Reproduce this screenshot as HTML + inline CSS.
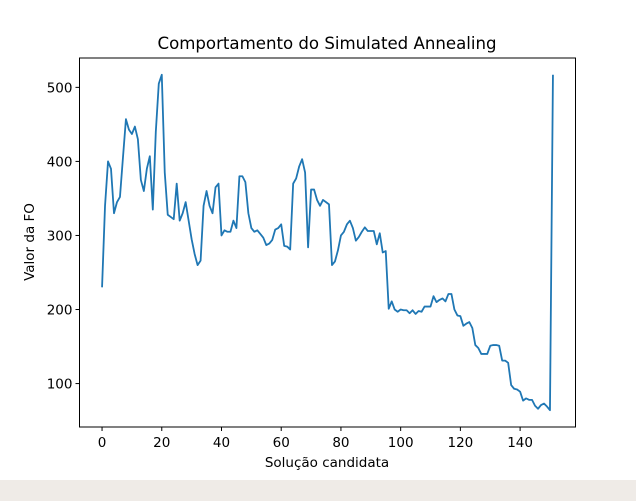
<!DOCTYPE html>
<html><head><meta charset="utf-8"><style>
html,body{margin:0;padding:0;background:#fff;}
svg{display:block;font-family:"DejaVu Sans","Liberation Sans",sans-serif;}
</style></head><body>
<svg id="chart" width="636" height="501" viewBox="0 0 636 501" xmlns="http://www.w3.org/2000/svg">
<rect x="0" y="0" width="636" height="480" fill="#fff"/>
<rect x="0" y="480" width="636" height="21" fill="#efebe7"/>
<text x="327" y="49" font-size="16.6" text-anchor="middle" fill="#000">Comportamento do Simulated Annealing</text>
<text x="327" y="467" font-size="13.5" text-anchor="middle" fill="#000">Solução candidata</text>
<text transform="translate(34,242) rotate(-90)" font-size="13.5" text-anchor="middle" fill="#000">Valor da FO</text>
<g id="ticks"></g>
<path id="series" fill="none" stroke="#1f77b4" stroke-width="1.8" stroke-linejoin="round"/>
<rect x="79.5" y="58" width="496" height="369" fill="none" stroke="#000" stroke-width="1"/>
</svg>
<script>
const foValues = [230,340,400,390,330,345,352,405,457,443,437,447,430,375,360,390,407,335,440,505,517,385,328,325,322,370,320,330,345,320,295,275,260,266,340,360,340,330,365,370,300,307,305,305,320,310,380,380,372,330,310,305,307,302,297,287,289,294,308,310,315,286,285,281,370,377,393,403,385,284,362,362,348,340,348,345,342,260,265,280,300,305,315,320,310,293,298,305,311,306,306,306,288,303,277,279,201,211,200,197,200,199,199,195,199,194,198,197,204,204,204,218,210,213,215,211,221,221,200,192,191,178,181,183,175,152,148,140,140,140,151,152,152,151,131,131,128,98,93,92,89,77,80,78,78,70,66,71,73,69,64,517];
const xTicks = [0,20,40,60,80,100,120,140];
const yTicks = [100,200,300,400,500];

const L=79.5,R=575.5,T=58,B=427;
const n=foValues.length;
const xmin=0-(n-1)*0.05, xmax=(n-1)*1.05;
const vmin=Math.min(...foValues), vmax=Math.max(...foValues), m=(vmax-vmin)*0.05;
const ymin=vmin-m, ymax=vmax+m;
const xs=v=>L+(v-xmin)/(xmax-xmin)*(R-L);
const ys=v=>B-(v-ymin)/(ymax-ymin)*(B-T);
const NS="http://www.w3.org/2000/svg";
document.getElementById('series').setAttribute('d',foValues.map((v,i)=>(i?'L':'M')+xs(i).toFixed(2)+','+ys(v).toFixed(2)).join(''));
const g=document.getElementById('ticks');
xTicks.forEach(t=>{
  const x=xs(t);
  const l=document.createElementNS(NS,'line');
  l.setAttribute('x1',x);l.setAttribute('x2',x);l.setAttribute('y1',B);l.setAttribute('y2',B+4);l.setAttribute('stroke','#000');
  
  
  g.appendChild(l);
  const tx=document.createElementNS(NS,'text');
  tx.setAttribute('x',x);tx.setAttribute('y',B+20);tx.setAttribute('font-size','13.5');tx.setAttribute('text-anchor','middle');
  tx.textContent=t;
  
  
  g.appendChild(tx);
});
yTicks.forEach(t=>{
  const y=ys(t);
  const l=document.createElementNS(NS,'line');
  l.setAttribute('x1',L-4);l.setAttribute('x2',L);l.setAttribute('y1',y);l.setAttribute('y2',y);l.setAttribute('stroke','#000');
  
  
  g.appendChild(l);
  const tx=document.createElementNS(NS,'text');
  tx.setAttribute('x',L-7);tx.setAttribute('y',y+5);tx.setAttribute('font-size','13.5');tx.setAttribute('text-anchor','end');
  tx.textContent=t;
  
  
  g.appendChild(tx);
});
</script>
</body></html>
